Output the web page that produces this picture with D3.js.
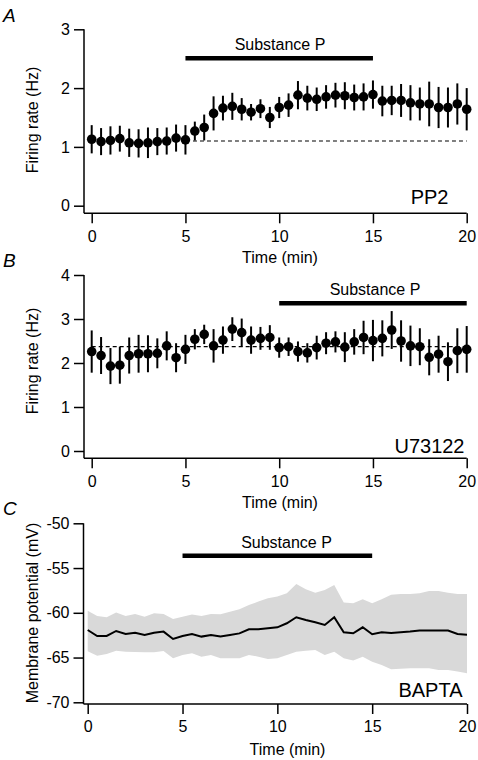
<!DOCTYPE html>
<html>
<head>
<meta charset="utf-8">
<script src="https://cdn.jsdelivr.net/npm/d3@7"></script>
<style>
  html, body { margin: 0; padding: 0; background: #fff; }
  svg { display: block; }
  text { font-family: "Liberation Sans", Arial, Helvetica, sans-serif; fill: #000; }
</style>
</head>
<body>
<svg id="chart" width="478" height="760"></svg>
<script>
// ---------- DATA ----------
const times = [0,0.5,1,1.5,2,2.5,3,3.5,4,4.5,5,5.5,6,6.5,7,7.5,8,8.5,9,9.5,10,
               10.5,11,11.5,12,12.5,13,13.5,14,14.5,15,15.5,16,16.5,17,17.5,18,18.5,19,19.5,20];
const xTicks = [0,5,10,15,20];

// Panel A: PP2, firing rate (Hz), mean and SEM
const rateA = [1.13,1.09,1.11,1.14,1.07,1.06,1.07,1.09,1.10,1.15,1.12,
               1.27,1.33,1.57,1.66,1.69,1.64,1.59,1.65,1.50,1.67,
               1.71,1.88,1.83,1.81,1.85,1.88,1.87,1.84,1.85,1.89,
               1.78,1.79,1.79,1.75,1.73,1.73,1.67,1.67,1.73,1.64];
const semA  = [0.24,0.23,0.24,0.22,0.24,0.24,0.26,0.23,0.23,0.23,0.25,
               0.16,0.22,0.29,0.21,0.23,0.19,0.14,0.16,0.18,0.18,
               0.20,0.24,0.21,0.20,0.20,0.21,0.23,0.22,0.23,0.24,
               0.26,0.25,0.28,0.30,0.28,0.38,0.35,0.34,0.35,0.36];
const yTicksA = [0,1,2,3];
const baselineA = 1.1, baselineSpanA = [5.4, 20];
const drugA = [5, 15];

// Panel B: U73122
const rateB = [2.26,2.17,1.93,1.95,2.17,2.21,2.21,2.22,2.39,2.12,2.31,
               2.54,2.65,2.39,2.52,2.77,2.69,2.52,2.56,2.58,2.35,
               2.37,2.26,2.23,2.35,2.45,2.48,2.36,2.48,2.58,2.51,
               2.56,2.75,2.50,2.39,2.37,2.13,2.20,2.03,2.28,2.31];
const semB  = [0.48,0.42,0.41,0.42,0.41,0.43,0.42,0.34,0.33,0.33,0.33,
               0.23,0.22,0.38,0.31,0.27,0.32,0.31,0.26,0.28,0.23,
               0.21,0.23,0.22,0.27,0.25,0.24,0.34,0.29,0.38,0.47,
               0.41,0.43,0.47,0.46,0.42,0.41,0.42,0.44,0.51,0.53];
const yTicksB = [0,1,2,3,4];
const baselineB = 2.37, baselineSpanB = [0, 20];
const drugB = [10, 20];

// Panel C: BAPTA, membrane potential (mV): mean, upper and lower band edges
const vmC = [-61.92,-62.59,-62.59,-62.03,-62.37,-62.22,-62.48,-62.22,-62.10,-62.92,-62.59,
             -62.37,-62.66,-62.48,-62.66,-62.48,-62.30,-61.84,-61.84,-61.73,-61.62,
             -61.17,-60.50,-60.80,-61.06,-61.36,-60.50,-62.18,-62.29,-61.62,-62.40,
             -62.18,-62.25,-62.18,-62.10,-61.99,-61.99,-61.99,-61.99,-62.37,-62.44];
const upperC = [-59.76,-60.35,-60.50,-59.98,-60.35,-60.13,-60.43,-60.06,-60.13,-60.69,-60.43,
                -60.20,-60.35,-60.13,-60.17,-59.87,-59.61,-59.12,-58.75,-58.38,-58.19,
                -57.82,-56.78,-57.37,-57.75,-57.45,-56.89,-58.86,-58.94,-58.49,-58.94,
                -58.49,-57.97,-57.90,-57.90,-57.82,-57.56,-57.56,-57.75,-57.90,-57.90];
const lowerC = [-64.30,-64.79,-64.60,-64.23,-64.34,-64.38,-64.41,-64.41,-64.26,-65.08,-64.71,
                -64.53,-64.90,-64.71,-65.08,-65.08,-65.08,-64.71,-64.90,-65.16,-65.08,
                -64.71,-64.34,-64.23,-64.15,-64.71,-64.34,-65.08,-65.34,-64.90,-65.46,
                -65.83,-66.31,-66.24,-66.20,-66.20,-66.20,-66.39,-66.39,-66.57,-66.76];
const yTicksC = [-70,-65,-60,-55,-50];
const drugC = [5, 15];

// ---------- DRAW ----------
const svg = d3.select("#chart");

function frame(cfg) {
  const g = svg.append("g");
  const x = d3.scaleLinear().domain([0, 20]).range(cfg.xRange);
  const y = d3.scaleLinear().domain(cfg.yDomain).range(cfg.yRange);

  // y axis
  const ya = g.append("g").attr("transform", `translate(${cfg.yAxisX},0)`)
    .call(d3.axisLeft(y).tickValues(cfg.yTicks).tickSize(10).tickSizeOuter(0).tickPadding(4)
      .tickFormat(d => String(d)));
  ya.select(".domain").remove();
  ya.selectAll("line").attr("stroke", "#000").attr("stroke-width", 1.5);
  ya.selectAll("text").attr("font-size", 16).attr("font-family", null);

  // x axis
  const xa = g.append("g").attr("transform", `translate(0,${cfg.xAxisY})`)
    .call(d3.axisBottom(x).tickValues(xTicks).tickSize(10).tickSizeOuter(0).tickPadding(7)
      .tickFormat(d => String(d)));
  xa.select(".domain").remove();
  xa.selectAll("line").attr("stroke", "#000").attr("stroke-width", 1.5);
  xa.selectAll("text").attr("font-size", 16).attr("font-family", null);

  // axis lines
  g.append("line").attr("x1", cfg.yAxisX).attr("x2", cfg.yAxisX)
    .attr("y1", y(cfg.yDomain[1])).attr("y2", cfg.xAxisY)
    .attr("stroke", "#000").attr("stroke-width", 1.5);
  g.append("line").attr("x1", cfg.yAxisX).attr("x2", x(20))
    .attr("y1", cfg.xAxisY).attr("y2", cfg.xAxisY)
    .attr("stroke", "#000").attr("stroke-width", 1.5);

  // x label
  g.append("text").attr("x", cfg.xLabelX).attr("y", cfg.xLabelY)
    .attr("text-anchor", "middle").attr("font-size", 16).text("Time (min)");
  // y label
  g.append("text")
    .attr("transform", `translate(37.5,${cfg.yLabelY}) rotate(-90)`)
    .attr("text-anchor", "middle").attr("font-size", 16).text(cfg.yLabel);
  // panel letter
  g.append("text").attr("x", 3).attr("y", cfg.letterY)
    .attr("font-size", 19).attr("font-style", "italic").text(cfg.letter);
  // condition label
  g.append("text").attr("x", cfg.condX).attr("y", cfg.condY)
    .attr("text-anchor", "end").attr("font-size", 20).text(cfg.cond);
  // Substance P bar
  g.append("line").attr("x1", x(cfg.drug[0])).attr("x2", x(cfg.drug[1]))
    .attr("y1", cfg.drugY).attr("y2", cfg.drugY)
    .attr("stroke", "#000").attr("stroke-width", 4.5);
  g.append("text").attr("x", cfg.drugLabelX).attr("y", cfg.drugY - 8)
    .attr("text-anchor", "middle").attr("font-size", 16).text("Substance P");

  return { g, x, y };
}

function scatterPanel(cfg, means, sems, base, baseSpan) {
  const { g, x, y } = frame(cfg);
  g.append("line").attr("x1", x(baseSpan[0])).attr("x2", x(baseSpan[1]))
    .attr("y1", y(base)).attr("y2", y(base))
    .attr("stroke", "#000").attr("stroke-width", 1.2).attr("stroke-dasharray", "4,3");
  const pts = times.map((t, i) => ({ t, m: means[i], s: sems[i] }));
  g.selectAll(".eb").data(pts).enter().append("line")
    .attr("x1", d => x(d.t)).attr("x2", d => x(d.t))
    .attr("y1", d => y(d.m - d.s)).attr("y2", d => y(d.m + d.s))
    .attr("stroke", "#000").attr("stroke-width", 2);
  g.selectAll(".dot").data(pts).enter().append("circle")
    .attr("cx", d => x(d.t)).attr("cy", d => y(d.m)).attr("r", 4.8).attr("fill", "#000");
}

scatterPanel({
  xRange: [91.7, 466.7], yDomain: [0, 3], yRange: [205.7, 29.3], yTicks: yTicksA,
  yAxisX: 84, xAxisY: 213.3, xLabelX: 280, xLabelY: 262.5,
  yLabel: "Firing rate (Hz)", yLabelY: 120, letter: "A", letterY: 21.7,
  cond: "PP2", condX: 448.5, condY: 204, drug: drugA, drugY: 58.3, drugLabelX: 280
}, rateA, semA, baselineA, baselineSpanA);

scatterPanel({
  xRange: [91.7, 466.7], yDomain: [0, 4], yRange: [451, 275], yTicks: yTicksB,
  yAxisX: 84, xAxisY: 458.3, xLabelX: 280, xLabelY: 508,
  yLabel: "Firing rate (Hz)", yLabelY: 361, letter: "B", letterY: 267.3,
  cond: "U73122", condX: 464.5, condY: 452.7, drug: drugB, drugY: 303.3, drugLabelX: 375
}, rateB, semB, baselineB, baselineSpanB);

(function () {
  const cfg = {
    xRange: [87.7, 467], yDomain: [-70, -50], yRange: [702.3, 523.3], yTicks: yTicksC,
    yAxisX: 83.5, xAxisY: 704, xLabelX: 287.5, xLabelY: 755,
    yLabel: "Membrane potential (mV)", yLabelY: 613, letter: "C", letterY: 515,
    cond: "BAPTA", condX: 462.5, condY: 697.3, drug: drugC, drugY: 555.7, drugLabelX: 286.5
  };
  const { g, x, y } = frame(cfg);
  const pts = times.map((t, i) => ({ t, m: vmC[i], hi: upperC[i], lo: lowerC[i] }));
  const area = d3.area().x(d => x(d.t)).y0(d => y(d.lo)).y1(d => y(d.hi));
  g.insert("path", ":first-child").datum(pts).attr("d", area).attr("fill", "#d9d9d9");
  const line = d3.line().x(d => x(d.t)).y(d => y(d.m));
  g.append("path").datum(pts).attr("d", line)
    .attr("fill", "none").attr("stroke", "#000").attr("stroke-width", 2)
    .attr("stroke-linejoin", "miter");
})();
</script>
</body>
</html>
